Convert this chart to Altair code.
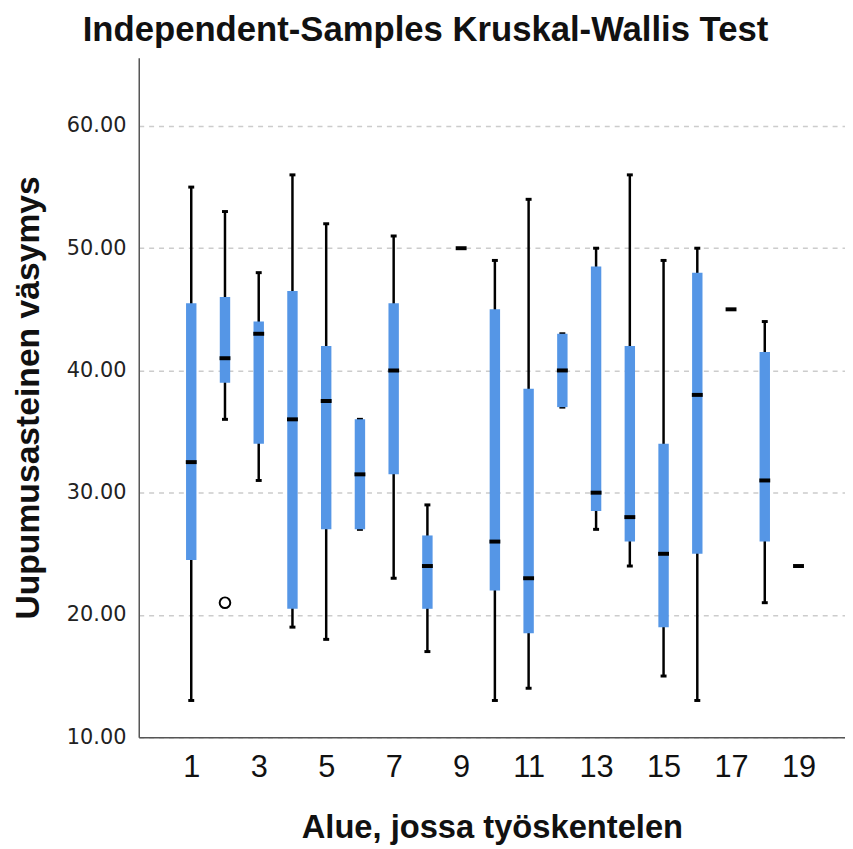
import altair as alt
import pandas as pd

cats = list(range(1, 20))
lo  = [13, 36, 31, 19, 18, 27,   23, 17, 50, 13, 14,   37, 27,   24, 15, 13, 45, 21, 24]
q1  = [24.5, 39, 34, 20.5, 27, 27, 31.5, 20.5, 50, 22, 18.5, 37, 28.5, 26, 19, 25, 45, 26, 24]
med = [32.5, 41, 43, 36, 37.5, 31.5, 40, 24, 50, 26, 23, 40, 30, 28, 25, 38, 45, 31, 24]
q3  = [45.5, 46, 44, 46.5, 42, 36, 45.5, 26.5, 50, 45, 38.5, 43, 48.5, 42, 34, 48, 45, 41.5, 24]
hi  = [55, 53, 48, 56, 52, 36, 51, 29, 50, 49, 54, 43, 50, 56, 49, 50, 45, 44, 24]

out_cat = [2]
out_val = [21]

df = pd.DataFrame({"cat": cats, "lo": lo, "q1": q1, "med": med, "q3": q3, "hi": hi})
df_out = pd.DataFrame({"cat": out_cat, "val": out_val})

xs = alt.Scale(domain=[-0.556, 20.378], nice=False, zero=False)
ys = alt.Scale(domain=[10, 65.59], nice=False, zero=False)

x_axis = alt.Axis(values=[1, 3, 5, 7, 9, 11, 13, 15, 17, 19], title="Alue, jossa työskentelen",
                  grid=False, ticks=False, labelFontSize=31, labelFont="Liberation Sans",
                  labelColor="#111", labelPadding=16, domainColor="#555", domainWidth=1.5,
                  titleFontSize=33, titleFont="Liberation Sans", titleFontWeight="bold",
                  titleColor="#111", titlePadding=29)
y_axis = alt.Axis(values=[10, 20, 30, 40, 50, 60], format=".2f", title="Uupumusasteinen väsymys",
                  grid=True, gridDash=[5, 5], gridColor="#cccccc", gridWidth=1.5,
                  ticks=False, labelFontSize=21, labelFont="DejaVu Sans", labelColor="#222",
                  labelPadding=13, domainColor="#555", domainWidth=1.5,
                  titleFontSize=34, titleFont="Liberation Sans", titleFontWeight="bold",
                  titleColor="#111", titlePadding=21)

base = alt.Chart(df)

whisk = base.mark_rule(color="black", strokeWidth=2.5).encode(
    x=alt.X("cat:Q", scale=xs, axis=x_axis),
    y=alt.Y("lo:Q", scale=ys, axis=y_axis),
    y2="hi:Q",
)
caps_lo = base.transform_filter("datum.hi > datum.lo").mark_tick(
    color="black", orient="horizontal", size=6, thickness=3, opacity=1).encode(
    x=alt.X("cat:Q", scale=xs), y=alt.Y("lo:Q", scale=ys))
caps_hi = base.transform_filter("datum.hi > datum.lo").mark_tick(
    color="black", orient="horizontal", size=6, thickness=3, opacity=1).encode(
    x=alt.X("cat:Q", scale=xs), y=alt.Y("hi:Q", scale=ys))
box = base.mark_rule(color="#5596e6", strokeWidth=10.5).encode(
    x=alt.X("cat:Q", scale=xs), y=alt.Y("q1:Q", scale=ys), y2="q3:Q")
median = base.mark_tick(color="black", orient="horizontal", size=11, thickness=4, opacity=1).encode(
    x=alt.X("cat:Q", scale=xs), y=alt.Y("med:Q", scale=ys))
outl = alt.Chart(df_out).mark_point(shape="circle", filled=False, color="black",
                                    strokeWidth=2, size=115, opacity=1).encode(
    x=alt.X("cat:Q", scale=xs), y=alt.Y("val:Q", scale=ys))

chart = alt.layer(whisk, caps_lo, caps_hi, box, median, outl).properties(
    width=713, height=686,
    title=alt.TitleParams("Independent-Samples Kruskal-Wallis Test", font="Liberation Sans",
                          fontSize=35, fontWeight="bold", color="#111", anchor="middle",
                          dx=-67, offset=10),
    autosize=alt.AutoSizeParams(type="none"),
    padding={"left": 132, "top": 46, "right": 0, "bottom": 130},
).configure_view(stroke=None)

chart.save("out.html", embed_options={"renderer": "svg", "actions": False})
